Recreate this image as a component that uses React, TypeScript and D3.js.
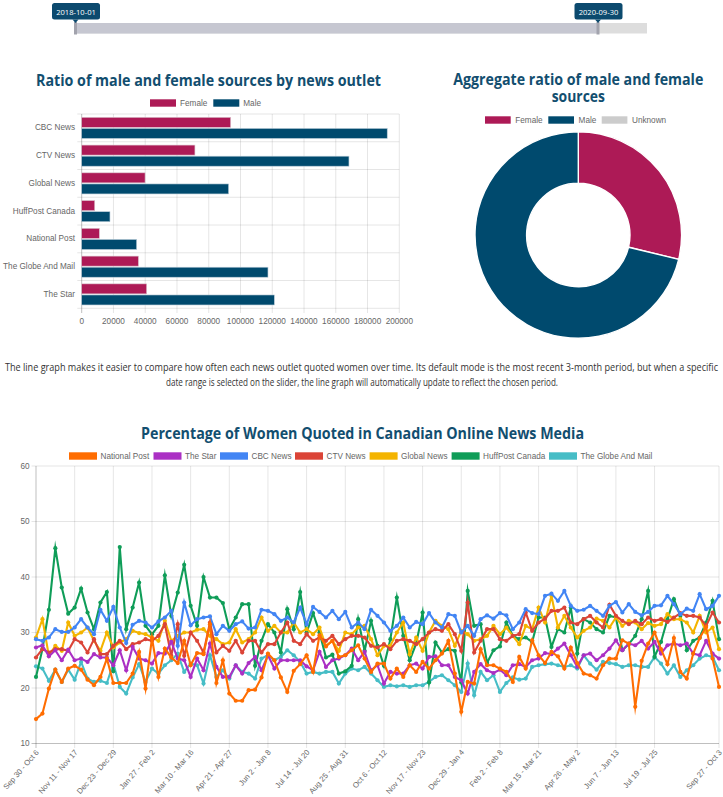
import React, { useLayoutEffect } from "react";
import * as d3 from "d3";

// ---------- Bar chart data ----------
const outlets = ["CBC News", "CTV News", "Global News", "HuffPost Canada", "National Post", "The Globe And Mail", "The Star"];
const femaleCounts = [93800, 71300, 39900, 8200, 11100, 35700, 40900];
const maleCounts = [192400, 168300, 92500, 17800, 34600, 117300, 121300];

// ---------- Doughnut data ----------
const aggregateLabels = ["Female", "Male", "Unknown"];
const aggregateValues = [300900, 744200, 0];

// ---------- Slider ----------
const sliderStart = "2018-10-01";
const sliderEnd = "2020-09-30";

// ---------- Line chart data ----------
const weekCount = 107;
const xTickLabels = ["Sep 30 - Oct 6", "Nov 11 - Nov 17", "Dec 23 - Dec 29", "Jan 27 - Feb 2", "Mar 10 - Mar 16", "Apr 21 - Apr 27", "Jun 2 - Jun 8", "Jul 14 - Jul 20", "Aug 25 - Aug 31", "Oct 6 - Oct 12", "Nov 17 - Nov 23", "Dec 29 - Jan 4", "Feb 2 - Feb 8", "Mar 15 - Mar 21", "Apr 26 - May 2", "Jun 7 - Jun 13", "Jul 19 - Jul 25", "Sep 27 - Oct 3"];
const seriesNames = ["National Post", "The Star", "CBC News", "CTV News", "Global News", "HuffPost Canada", "The Globe And Mail"];
const seriesColors = ["#ff6d01", "#ab30c4", "#4285f4", "#db4437", "#f4b400", "#0f9d58", "#46bdc6"];

const nationalPost = [14.4, 15.4, 19.9, 23.3, 21.1, 23.5, 24, 23.3, 21.5, 20.5, 22, 25.3, 20.9, 20.9, 20.9, 22.6, 26.5, 19.9, 29, 22, 27.1, 25.5, 24.5, 28.5, 24.1, 26.3, 26.1, 31.5, 20.9, 25, 19, 17.7, 17.7, 19.6,
  19.7, 21.9, 26.2, 25, 21.9, 19.3, 23.1, 24.3, 25.9, 22.9, 29.5, 27.5, 28.5, 25.6, 25.9, 26.8, 27.7, 25.3, 22.9, 24.4, 24.4, 21.7, 23.5, 22, 24.1, 22.9, 24.7, 23.5, 25, 26.2, 28.5, 22.6, 15.7, 21.1, 20.8,
  27, 24.1, 24.1, 23.5, 22.9, 21.1, 25.6, 23.5, 28.6, 25.9, 24.5, 26.5, 25.7, 23.5, 27.3, 24.5, 22.6, 22.3, 21.7, 24.1, 25.3, 25.3, 28.6, 28, 16.6, 24.9, 28, 30, 27, 24.3, 29, 22.9, 21.7, 26.2, 29, 31, 25.3, 20.2];
const theStar = [27.3, 27.7, 25.7, 26.8, 25, 26.9, 25, 25.3, 24.7, 26.1, 25.5, 25.5, 24.1, 26.8, 23.2, 27.4, 25.3, 25, 24.4, 26.3, 26.2, 28.3, 25.3, 25, 22, 25.3, 23.2, 28, 23.8, 22, 22, 24.1, 22.6, 24.5,
  25.6, 23.2, 25.9, 23.5, 25, 25, 25, 25, 23.9, 23.2, 26.5, 23.8, 25, 25.3, 25.9, 27.1, 25, 26.5, 23.2, 24.1, 20.8, 22.9, 22.6, 22.6, 24.1, 24.4, 23.5, 25.6, 25.7, 24.1, 24.1, 22, 21.4, 19, 22.9,
  24.3, 23.2, 22.7, 23.3, 22.3, 24.1, 24.3, 23.8, 25, 25.3, 26.3, 26.1, 27.1, 28, 25.9, 23.8, 25.9, 26.2, 25, 25.9, 27.1, 28.6, 26.8, 28, 27.7, 28.5, 27.1, 28.3, 26.2, 27.7, 28, 27.7, 28, 26.2, 25.9, 28.5, 26.2, 25.3];
const cbcNews = [28.8, 28.5, 29.1, 30.6, 30.1, 30.1, 30.9, 32.4, 30.9, 29.7, 34.1, 32.1, 34.6, 30.9, 28.1, 31.4, 32.1, 31.8, 30.9, 32.0, 32.7, 33.9, 27.6, 35.4, 31.3, 32.4, 32.7, 32.9, 29.7, 31.2, 30.3, 31.5, 32.0, 30.7,
  30.9, 34.1, 33.9, 33.3, 32.1, 32.7, 31.8, 34.5, 31.5, 34.6, 33.7, 32.7, 33.9, 32.4, 33.7, 30.9, 31.8, 30.6, 34.1, 33.0, 31.8, 30.3, 31.2, 32.7, 30.9, 31.9, 31.5, 33.5, 31.8, 30.9, 33.3, 33.0, 30.0, 31.2, 29.4,
  32.4, 33.1, 32.5, 33.5, 33.1, 30.6, 31.8, 34.2, 33.5, 33.3, 36.6, 37.0, 35.7, 37.5, 34.8, 33.9, 34.1, 34.8, 33.9, 33.0, 34.8, 35.5, 33.6, 35.1, 33.7, 33.1, 33.7, 34.8, 34.9, 36.6, 35.1, 33.3, 34.3, 33.9, 36.9, 34.2, 34.8, 36.6];
const ctvNews = [25.5, 27, 26.4, 27, 27, 26.7, 28.8, 28.2, 26.4, 28.8, 26.1, 26.1, 27.6, 28.5, 27, 27.9, 28.2, 28.8, 28.5, 29.4, 31.5, 25.8, 31.5, 25.8, 30, 28.5, 26.4, 31.8, 26.4, 27.6, 26.7, 28.5, 26.4, 28.5,
  28.5, 26.4, 27.9, 27.9, 30, 31.8, 28.5, 27.9, 29.7, 28.5, 29.1, 28.5, 29.4, 27.9, 28.8, 29.4, 29.4, 29.1, 27.6, 27.3, 27.9, 27, 28.5, 28.8, 28.5, 27.9, 28.8, 30, 30.6, 30.3, 31.5, 29.7, 26.7, 35.4, 26.4,
  28.5, 30.6, 30.6, 28.8, 28.5, 29.4, 29.7, 33.6, 30.3, 31.8, 32.5, 33.9, 33.9, 34.5, 31.8, 31.5, 32.4, 33, 31.8, 30.9, 35, 33, 32.1, 31.5, 32.1, 31.5, 32.7, 32.1, 32.4, 31.9, 32.7, 33.5, 33, 33, 32.7, 31.2, 33.6, 31.8];
const globalNews = [29.1, 32.4, 25.8, 27.6, 26.7, 31.8, 29.4, 30, 30.9, 28.5, 26.7, 30, 27.3, 28.2, 28.8, 30.3, 29.9, 29.7, 29.1, 28.5, 32.1, 28.5, 29.4, 30, 30, 30.5, 30.6, 29.4, 28.8, 27.9, 28.2, 30.6, 28.2, 28.8,
  30, 32.7, 30.3, 31.2, 30, 30, 31.8, 30, 30.6, 29.7, 30.9, 27.6, 28.5, 26.7, 30, 29.7, 30.9, 31.2, 28.8, 25.9, 27.6, 27.6, 30, 31.8, 26.1, 29.1, 26.7, 30, 32.1, 31.2, 30.6, 27.6, 30.3, 29.7, 28.5,
  28.8, 29.4, 31.2, 29.7, 30.9, 29.4, 27.9, 31.2, 30.6, 34.5, 31.8, 36.6, 30.9, 33, 30.9, 29.1, 30.3, 30.9, 32.5, 32.1, 30.9, 32.7, 31.2, 32.1, 31.8, 30.6, 31.7, 31.2, 31.5, 33.3, 32.4, 32.4, 31.8, 30, 33, 30, 30.9, 27];
const huffPost = [22, 27, 34.1, 45.2, 38.1, 33.4, 34.5, 37.9, 33.6, 30.6, 35.4, 37.3, 23, 45.4, 30.6, 34.5, 39, 31.2, 29.7, 31.2, 40.3, 33, 37.2, 42.2, 34.8, 31.2, 40, 36.3, 36.3, 35.3, 30.6, 32.7, 35.1, 35.1,
  24, 28.5, 31.5, 30, 26.4, 34.2, 30.6, 37.3, 30, 33.5, 30, 25.5, 26, 22.6, 23, 24, 32.4, 26.7, 32.1, 27.6, 24, 28.8, 36.3, 29.4, 25, 28, 33.6, 21, 28.2, 26.4, 27, 26.7, 21, 37.5, 31.2,
  31.5, 24.5, 26.8, 27.5, 31.8, 29.4, 28.8, 29.1, 28.3, 32.7, 32.7, 27.4, 30.6, 30, 34.5, 26.2, 32.4, 31.8, 30.6, 30, 33, 32.7, 26.8, 27.9, 29.4, 32.4, 37.5, 25.6, 28.3, 32.4, 36, 33, 26.8, 28.5, 29.1, 31.8, 35.7, 28.8];
const globeAndMail = [23.9, 23.5, 21.3, 23.3, 21.1, 23.3, 21.5, 24.7, 21.7, 21.1, 21.3, 20.9, 24.4, 20.2, 19, 21.9, 24.3, 21.1, 23.5, 22.6, 24.1, 25, 26.2, 22.9, 24.4, 24.1, 20.8, 25.9, 22, 23.2, 21.7, 24.1, 22.9, 22.6,
  21.7, 25.3, 25.9, 25, 25.6, 26.8, 25.9, 24.7, 22.6, 22.9, 22.6, 22.9, 22.9, 20.8, 22.6, 23.5, 23.2, 23.8, 22.6, 21.4, 20.2, 20.5, 20.3, 20.5, 20.2, 20.5, 20.5, 21.1, 22, 22.3, 21.4, 20.5, 19.3, 24.4, 18.7,
  22.9, 21.4, 22.3, 19.3, 20.9, 21.9, 21.5, 21.7, 23.8, 24.1, 24.3, 24.4, 24.1, 23.8, 24.1, 23.5, 25.9, 24.4, 23.3, 24.7, 24.5, 24.3, 23.8, 24.1, 24.1, 23.8, 23.8, 25.6, 24.4, 22.6, 24.1, 22, 23.2, 24.1, 25.3, 25.9, 25.6, 23.2];

const seriesValues = [nationalPost, theStar, cbcNews, ctvNews, globalNews, huffPost, globeAndMail];

const FEMALE = "#ad1a56";
const MALE = "#004a6e";
const UNKNOWN = "#cccccc";
const TITLE = "#124e6f";
const LABEL = "#666666";
const GRID = "rgba(0,0,0,0.1)";
const CJS = "'Liberation Sans', Arial, Helvetica, sans-serif";
const OS = "'Open Sans', 'Noto Sans', sans-serif";

export default function App() {
  useLayoutEffect(() => {
    document.body.style.margin = "0";
  }, []);

  // ---- bar chart scales ----
  const xB = d3.scaleLinear().domain([0, 200000]).range([81.7, 399.3]);
  const yB = d3.scaleBand().domain(outlets).range([114, 308.3]);
  const bw = yB.bandwidth();
  const inner = d3.scaleBand().domain(["Female", "Male"]).range([bw * 0.1, bw * 0.9]).paddingInner(0.1).paddingOuter(0.05);
  const barTicks = xB.ticks(10);

  // ---- doughnut ----
  const pieGen = d3.pie<number>().sort(null).value((d) => d);
  const arcs = pieGen(aggregateValues);
  const arcGen = d3.arc<d3.PieArcDatum<number>>().innerRadius(51.7).outerRadius(103.3);
  const pieColors = [FEMALE, MALE, UNKNOWN];

  // ---- line chart scales ----
  const xL = d3.scaleLinear().domain([0, weekCount - 1]).range([36, 719]);
  const yL = d3.scaleLinear().domain([10, 60]).range([743.5, 466]);
  const yTicks = yL.ticks(5);
  const tickIdx = xTickLabels.map((_, i) => (i < xTickLabels.length - 1 ? i * 6 : weekCount - 1));
  const lineGen = d3.line<number>().x((_, i) => xL(i)).y((d) => yL(d)).curve(d3.curveLinear);

  const lineLegendX = [69, 153.5, 220, 295, 369.6, 451.6, 549];
  const barLegendX = [150, 213.3];
  const pieLegendX = [485, 548.3, 601.7];

  return (
    <svg width={723} height={797} style={{ display: "block" }}>
      {/* ---------- Slider ---------- */}
      <g>
        <rect x={75} y={23} width={572} height={10.5} fill="#dddddd" />
        <rect x={75} y={23} width={523} height={10.5} fill="#c6c7d1" />
        <rect x={74} y={22} width={3} height={12.5} fill="#a2a3ad" />
        <rect x={596.5} y={22} width={3} height={12.5} fill="#a2a3ad" />
        {[{ x: 75.5, t: sliderStart }, { x: 598, t: sliderEnd }].map((h, i) => (
          <g key={i}>
            <rect x={h.x - 23.5} y={3} width={48} height={16.5} rx={2.5} fill="#0c4a6e" />
            <path d={`M${h.x - 3},19.5 L${h.x + 3},19.5 L${h.x},23 Z`} fill="#0c4a6e" />
            <text x={h.x + 0.5} y={11.5} fill="#ffffff" fontSize={7.6} fontFamily={OS} textAnchor="middle" dominantBaseline="central">
              {h.t}
            </text>
          </g>
        ))}
      </g>

      {/* ---------- Bar chart ---------- */}
      <text x={36} y={85.5} fill={TITLE} fontSize={15.5} fontWeight={700} fontFamily={OS} textLength={345} lengthAdjust="spacingAndGlyphs">
        Ratio of male and female sources by news outlet
      </text>
      {["Female", "Male"].map((lab, i) => (
        <g key={lab}>
          <rect x={barLegendX[i]} y={99.3} width={26} height={7.4} fill={i === 0 ? FEMALE : MALE} />
          <text x={barLegendX[i] + 30} y={103} fill={LABEL} fontSize={8.2} fontFamily={CJS} dominantBaseline="central">
            {lab}
          </text>
        </g>
      ))}
      <g>
        {barTicks.map((t) => (
          <line key={t} x1={xB(t)} x2={xB(t)} y1={114} y2={313} stroke={t === 0 ? "rgba(0,0,0,0.25)" : GRID} strokeWidth={1} />
        ))}
        {d3.range(outlets.length + 1).map((k) => (
          <line key={k} x1={77.3} x2={399.3} y1={114 + k * bw} y2={114 + k * bw} stroke={GRID} strokeWidth={1} />
        ))}
        {barTicks.map((t) => (
          <text key={t} x={xB(t)} y={321.5} fill={LABEL} fontSize={8.2} fontFamily={CJS} textAnchor="middle" dominantBaseline="central">
            {t}
          </text>
        ))}
        {outlets.map((o, i) => (
          <g key={o}>
            <text x={75} y={(yB(o) as number) + bw / 2} fill={LABEL} fontSize={8.2} fontFamily={CJS} textAnchor="end" dominantBaseline="central">
              {o}
            </text>
            <rect x={xB(0)} y={(yB(o) as number) + (inner("Female") as number)} width={xB(femaleCounts[i]) - xB(0)} height={inner.bandwidth()} fill={FEMALE} stroke="#d9c2cc" strokeWidth={0.6} />
            <rect x={xB(0)} y={(yB(o) as number) + (inner("Male") as number)} width={xB(maleCounts[i]) - xB(0)} height={inner.bandwidth()} fill={MALE} stroke="#b9ccd8" strokeWidth={0.6} />
          </g>
        ))}
      </g>

      {/* ---------- Doughnut ---------- */}
      <text x={453.3} y={85} fill={TITLE} fontSize={15.5} fontWeight={700} fontFamily={OS} textLength={250} lengthAdjust="spacingAndGlyphs">
        Aggregate ratio of male and female
      </text>
      <text x={551.7} y={102} fill={TITLE} fontSize={15.5} fontWeight={700} fontFamily={OS} textLength={53.3} lengthAdjust="spacingAndGlyphs">
        sources
      </text>
      {aggregateLabels.map((lab, i) => (
        <g key={lab}>
          <rect x={pieLegendX[i]} y={116.3} width={25.7} height={7.4} fill={pieColors[i]} />
          <text x={pieLegendX[i] + 30.3} y={120} fill={LABEL} fontSize={8.2} fontFamily={CJS} dominantBaseline="central">
            {lab}
          </text>
        </g>
      ))}
      <g transform="translate(578.3,235)">
        {arcs.map((a, i) =>
          a.value > 0 ? <path key={i} d={arcGen(a) as string} fill={pieColors[i]} stroke="#ffffff" strokeWidth={1.4} /> : null
        )}
      </g>

      {/* ---------- Paragraph ---------- */}
      <text x={5} y={371} fill="#333333" fontSize={10.3} fontFamily={OS} textLength={713} lengthAdjust="spacingAndGlyphs">
        The line graph makes it easier to compare how often each news outlet quoted women over time. Its default mode is the most recent 3-month period, but when a specific
      </text>
      <text x={166} y={385.5} fill="#333333" fontSize={10.3} fontFamily={OS} textLength={392} lengthAdjust="spacingAndGlyphs">
        date range is selected on the slider, the line graph will automatically update to reflect the chosen period.
      </text>

      {/* ---------- Line chart ---------- */}
      <text x={141} y={438.5} fill={TITLE} fontSize={15.5} fontWeight={700} fontFamily={OS} textLength={443} lengthAdjust="spacingAndGlyphs">
        Percentage of Women Quoted in Canadian Online News Media
      </text>
      {seriesNames.map((n, i) => (
        <g key={n}>
          <rect x={lineLegendX[i]} y={452.3} width={28} height={7.4} fill={seriesColors[i]} />
          <text x={lineLegendX[i] + 31.5} y={456} fill={LABEL} fontSize={8.2} fontFamily={CJS} dominantBaseline="central">
            {n}
          </text>
        </g>
      ))}
      <g>
        {yTicks.map((t) => (
          <g key={t}>
            <line x1={31.5} x2={719} y1={yL(t)} y2={yL(t)} stroke={t === 10 ? "rgba(0,0,0,0.25)" : GRID} strokeWidth={1} />
            <text x={29.5} y={yL(t)} fill={LABEL} fontSize={8.2} fontFamily={CJS} textAnchor="end" dominantBaseline="central">
              {t}
            </text>
          </g>
        ))}
        {tickIdx.map((idx, i) => (
          <g key={i}>
            <line x1={xL(idx)} x2={xL(idx)} y1={466} y2={748} stroke={i === 0 ? "rgba(0,0,0,0.25)" : GRID} strokeWidth={1} />
            <text
              transform={`translate(${xL(idx) + 1.5},${751}) rotate(-49)`}
              fill={LABEL}
              fontSize={7.7}
              fontFamily={CJS}
              textAnchor="end"
              dominantBaseline="central"
            >
              {xTickLabels[i]}
            </text>
          </g>
        ))}
        {seriesValues
          .map((vals, i) => ({ vals, i }))
          .reverse()
          .map(({ vals, i }) => (
            <g key={seriesNames[i]}>
              <path d={lineGen(vals) as string} fill="none" stroke={seriesColors[i]} strokeWidth={2.1} strokeLinejoin="miter" strokeMiterlimit={10} />
              {vals.map((v, j) => (
                <circle key={j} cx={xL(j)} cy={yL(v)} r={2.1} fill={seriesColors[i]} />
              ))}
            </g>
          ))}
      </g>
    </svg>
  );
}
